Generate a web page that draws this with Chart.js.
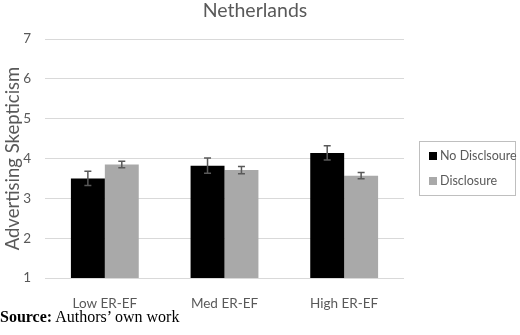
<!DOCTYPE html>
<html>
<head>
<meta charset="utf-8">
<script src="https://cdn.jsdelivr.net/npm/chart.js@4"></script>
<style>
  body { margin: 0; background: #fff; }
  .page { position: relative; width: 520px; height: 335px; overflow: hidden; }
  .plot { position: absolute; left: 0; top: 0; width: 520px; height: 310px; }
  .titulo { position: absolute; left: 0; top: -1px; width: 510px; text-align: center;
    font: 19.5px Lato, sans-serif; color: #595959; line-height: 22px; }
  .legenda { position: absolute; left: 419px; top: 141px; width: 95px; height: 53px;
    border: 1px solid #bfbfbf; font: 12.5px Lato, sans-serif; color: #595959; }
  .legenda div { position: absolute; left: 9px; height: 16px; line-height: 16px; white-space: nowrap; }
  .legenda span { display: inline-block; width: 8px; height: 8px; margin-right: 3px; vertical-align: 0px; }
  .fonte { position: absolute; left: 0; top: 308px; font: 16px "Liberation Serif", serif; color: #000; }
</style>
</head>
<body>
<div class="page">
  <div class="plot"><canvas id="grafico"></canvas></div>
  <div class="titulo">Netherlands</div>
  <div class="legenda">
    <div style="top:6px"><span style="background:#000"></span>No Disclsoure</div>
    <div style="top:31px"><span style="background:#a9a9a9"></span>Disclosure</div>
  </div>
  <div class="fonte"><b>Source:</b> Authors’ own work</div>
</div>
<script>
const categorias = ['Low ER-EF', 'Med ER-EF', 'High ER-EF']
const semDivulgacao = [3.50, 3.82, 4.14]
const semDivulgacaoErro = [0.18, 0.19, 0.18]
const divulgacao = [3.85, 3.71, 3.57]
const divulgacaoErro = [0.08, 0.09, 0.08]
const ticksY = [1, 2, 3, 4, 5, 6, 7]

// barras de erro desenhadas a partir da escala y
const barrasErro = {
    id: 'barrasErro',
    afterDatasetsDraw(chart) {
        const ctx = chart.ctx
        const y = chart.scales.y
        chart.data.datasets.forEach((ds, i) => {
            const meta = chart.getDatasetMeta(i)
            meta.data.forEach((bar, j) => {
                const v = ds.data[j], e = ds.erros[j]
                const yTop = y.getPixelForValue(v + e)
                const yBot = y.getPixelForValue(v - e)
                ctx.save()
                ctx.strokeStyle = '#595959'
                ctx.lineWidth = 1.5
                ctx.beginPath()
                ctx.moveTo(bar.x, yTop); ctx.lineTo(bar.x, yBot)
                ctx.moveTo(bar.x - 3.5, yTop); ctx.lineTo(bar.x + 3.5, yTop)
                ctx.moveTo(bar.x - 3.5, yBot); ctx.lineTo(bar.x + 3.5, yBot)
                ctx.stroke()
                ctx.restore()
            })
        })
    }
}

const grafico = new Chart(document.getElementById('grafico'), {
    type: 'bar',
    data: {
        labels: categorias,
        datasets: [{
            label: 'No Disclsoure',
            data: semDivulgacao,
            erros: semDivulgacaoErro,
            backgroundColor: '#000000'
        }, {
            label: 'Disclosure',
            data: divulgacao,
            erros: divulgacaoErro,
            backgroundColor: '#a9a9a9'
        }]
    },
    plugins: [barrasErro],
    options: {
        responsive: true,
        maintainAspectRatio: false,
        animation: false,
        layout: {
            padding: { top: 39, right: 116, bottom: 0, left: 0 }
        },
        datasets: {
            bar: { categoryPercentage: 0.567, barPercentage: 1 }
        },
        plugins: {
            legend: { display: false },
            tooltip: { enabled: false }
        },
        scales: {
            x: {
                grid: { display: false },
                border: { display: false },
                ticks: { color: '#595959', font: { family: 'Lato', size: 13.5 }, padding: 10 },
                afterFit: s => { s.height = 32 }
            },
            y: {
                min: 1,
                max: 7,
                afterBuildTicks: s => { s.ticks = ticksY.map(v => ({ value: v })) },
                grid: { color: '#d9d9d9', drawTicks: false },
                border: { display: false },
                ticks: { color: '#595959', font: { family: 'Lato', size: 13.5 }, padding: 14 },
                title: {
                    display: true,
                    text: 'Advertising Skepticism',
                    color: '#595959',
                    font: { family: 'Lato', size: 18.5 },
                    padding: { top: 2, bottom: 0 }
                },
                afterFit: s => { s.width = 45 }
            }
        }
    }
})
</script>
</body>
</html>
